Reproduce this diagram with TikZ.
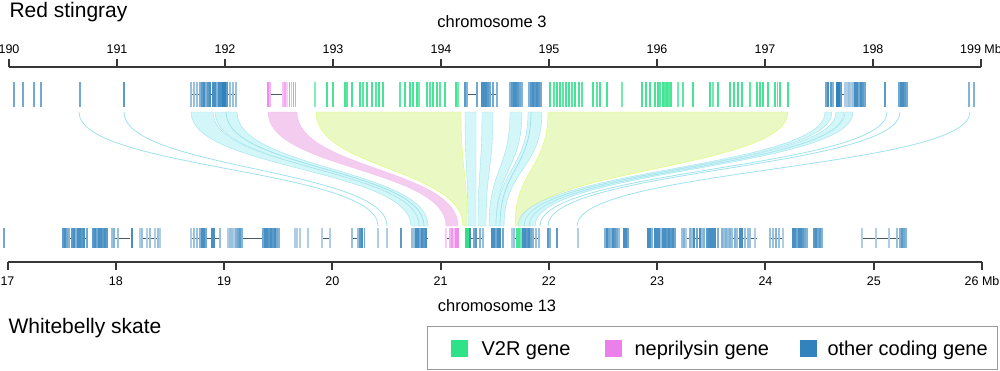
\documentclass[tikz,border=0pt]{standalone}
\usepackage{fontspec}
\setmainfont{Liberation Sans}
\definecolor{v2r}{RGB}{46,226,136}
\definecolor{nep}{RGB}{236,128,234}
\definecolor{oth}{RGB}{49,130,189}
\definecolor{axisgray}{RGB}{55,55,55}
\definecolor{cyfill}{RGB}{200,245,247}
\definecolor{cyline}{RGB}{160,226,236}
\definecolor{pkfill}{RGB}{244,204,240}
\definecolor{ygfill}{RGB}{234,248,196}
\definecolor{intr}{RGB}{70,90,110}
\newcommand\myribbon[5]{\filldraw[#5] (#1,112) .. controls (#1,169) and (#3,169) .. (#3,226) -- (#4,226) .. controls (#4,169) and (#2,169) .. (#2,112) -- cycle;}
\newcommand\myrline[2]{\draw[rline] (#1,112) .. controls (#1,169) and (#2,169) .. (#2,226);}
\newcommand\topgenes[2]{\foreach \x/\op in {#2} {\pgfmathtruncatemacro\pc{\op*100}\fill[#1!\pc!white] (\x-0.65,82) rectangle (\x+0.65,107);}}
\newcommand\botgenes[2]{\foreach \x/\op in {#2} {\pgfmathtruncatemacro\pc{\op*100}\fill[#1!\pc!white] (\x-0.65,228) rectangle (\x+0.65,248);}}
\begin{document}
\begin{tikzpicture}[x=1pt,y=-1pt,
  axisline/.style={draw=axisgray,line width=2pt},
  ticklbl/.style={font=\fontsize{12.5}{14}\selectfont,anchor=base},
  intron/.style={draw=intr,line width=0.6pt},
  cyr/.style={fill=cyfill,fill opacity=0.8,draw=cyline,line width=0.4pt},
  pkr/.style={fill=pkfill,draw=pkfill!85!nep,line width=0.4pt},
  ygr/.style={fill=ygfill,draw=ygfill!85!green!60!yellow,line width=0.4pt},
  rline/.style={draw=cyline,line width=0.8pt},
  title/.style={font=\fontsize{21}{24}\selectfont,anchor=base west},
  chrlbl/.style={font=\fontsize{16.5}{19}\selectfont,anchor=base},
  legsq/.style={minimum size=17pt,inner sep=0pt},
  legtxt/.style={font=\fontsize{20}{23}\selectfont,anchor=base west}]
\useasboundingbox (0,0) rectangle (1000,370);

% titles
\node[title] (sp1) at (6,17) {Red stingray};
\node[title] (sp2) at (5,333) {Whitebelly skate};
\node[chrlbl] (chr3) at (492,27) {chromosome 3};
\node[chrlbl] (chr13) at (497,311) {chromosome 13};

% top axis
\draw[axisline] (9,67) -- (981,67);
\foreach \i in {0,...,9} {
  \pgfmathsetmacro\tx{9+108*\i}
  \draw[axisline] (\tx,67) -- (\tx,59);
}
\foreach \i/\l in {0/190,1/191,2/192,3/193,4/194,5/195,6/196,7/197,8/198}
  \node[ticklbl] (tt\i) at ({9+108*\i},53) {\l};
\node[ticklbl] (tt9) at (981,53) {199 Mb};

% bottom axis
\draw[axisline] (7.5,262) -- (982,262);
\foreach \i in {0,...,9} {
  \pgfmathsetmacro\tx{7.5+108.28*\i}
  \draw[axisline] (\tx,262) -- (\tx,270);
}
\foreach \i/\l in {0/17,1/18,2/19,3/20,4/21,5/22,6/23,7/24,8/25}
  \node[ticklbl] (bt\i) at ({7.5+108.28*\i},285) {\l};
\node[ticklbl] (bt9) at (982,285) {26 Mb};

% ribbons
\myribbon{316}{461}{463}{467}{ygr}
\myribbon{548}{788}{515}{520}{ygr}
\myribbon{268}{297}{446}{458}{pkr}
\myribbon{191}{213}{411}{420}{cyr}
\myribbon{215}{237}{419}{428}{cyr}
\myribbon{465}{476}{468}{476}{cyr}
\myribbon{482}{493}{478}{486}{cyr}
\myribbon{510}{522}{489}{496}{cyr}
\myribbon{528}{542}{496}{504}{cyr}
\myribbon{825}{832}{518}{524}{cyr}
\myribbon{836}{844}{524}{530}{cyr}
\myribbon{845}{853}{529}{535}{cyr}
\myrline{79}{378}
\myrline{124}{387}
\myrline{226}{424}
\myrline{531}{500}
\myrline{887}{540}
\myrline{900}{548}
\myrline{970}{577}

% ===== top track genes =====
\topgenes{oth}{14/.7,23/.7,34/.7,41/.7,80/.7,124/.8}
\draw[intron] (191,94.5) -- (237,94.5);
\topgenes{oth}{191/.5,194/.5,197/.5,200/.6,202/.8,204/.9,206/.6,208/.8,210/.9,213/.9,215/.9,217/.6,219/.9,221/.9,223/1,225/1,227/.8,230/.5,233/.5,236/.5}
\draw[intron] (268,94.5) -- (285,94.5);
\topgenes{nep}{268/.9,270/.6,283/.5,285/.7,287/.4,289.5/.9,291.5/.6,293.5/.9,295.5/.8}
\topgenes{v2r}{315/.6,327/.9,333/.9,345/.9,347/.8,352/.9,360/.9,363/.8,367/.9,372/.9,376/.8,379/.9,383/.9,400/.8,405/.9,410/.9,413/.9,417/.9,419/.7,427/.9,430/.8,433/.9,437/.9,440/.8,445/.9,456/.9,458/.7}
\draw[intron] (465,94.5) -- (477,94.5);
\draw[intron] (482,94.5) -- (497,94.5);
\draw[intron] (510,94.5) -- (523,94.5);
\draw[intron] (529,94.5) -- (542,94.5);
\topgenes{oth}{465/.8,467/.6,477/.7,482/.9,484/.9,486/.9,488/.8,490/.7,493/.7,497/.6,510/.6,512/.8,514/.9,516/.9,518/.8,520/.7,522/.6,529/.6,531/.8,533/.9,535/.8,537/.9,539/.8,541/.7}
\topgenes{v2r}{550/.9,554/.8,557/.9,560/.9,563/.8,566/.9,569/.9,572/.8,575/.9,579/.9,582/.8,593/.9,597/.8,600/.9,607/.9,622/.7,642/.9,646/.9,650/.9,655/.9,658/.9,660/.8,663/.9,665/.8,667/.9,669/.8,671/.9,678/.7,683/.8,693/.9,710/.9,713/.7,718/.9,730/.9,734/.9,738/.9,742/.9,750/.8,757/.9,760/.9,763/.9,768/.9,775/.9,777.5/.8,780/.9,788/.9}
\draw[intron] (842,94.5) -- (855,94.5);
\topgenes{oth}{826/.7,828/.9,831/.8,833/.6,837/1,839/1,841/.8,845/.4,847/.4,849/.5,851/.4,853/.5,855/.9,857/.9,859/.7,861/.9,863/.8,865/.7,885/.8,899/.7,901/.9,903/.9,905/.8,907/.7,969/.6,974/.6}

% ===== bottom track genes =====
\draw[intron] (63,238) -- (87,238);
\draw[intron] (112,238) -- (130,238);
\draw[intron] (140,238) -- (161,238);
\draw[intron] (191,238) -- (220,238);
\draw[intron] (228,238) -- (263,238);
\draw[intron] (322,238) -- (330,238);
\draw[intron] (352,238) -- (362,238);
\draw[intron] (412,238) -- (428,238);
\draw[intron] (446,238) -- (458,238);
\draw[intron] (470,238) -- (483,238);
\draw[intron] (512,238) -- (540,238);
\draw[intron] (682,238) -- (700,238);
\draw[intron] (722,238) -- (757,238);
\draw[intron] (770,238) -- (783,238);
\draw[intron] (862,238) -- (907,238);
\botgenes{oth}{4/.7,63/.8,65/.9,67/.7,69/.6,72/.8,74/.9,76/.6,78/.9,80/.9,82/.8,84/.9,87/.7,93/.8,95/.9,97/.7,99/.9,101/.9,103/.8,105/.9,107/.8,112/.5,114/.6,118/.5,132/.9,140/.4,142/.5,147/.4,150/.5,155/.4,158/.5,160/.4}
\botgenes{oth}{191/.4,194/.5,197/.5,200/.6,202/.9,204/.9,206/.7,212/.9,214/.9,220/.5,228/.4,230/.5,232/.5,234/.4,236/.6,238/.7,240/.8,242/.6,263/.7,265/.9,267/.9,269/.8,271/.9,273/.8,275/.9,277/.7,279/.6,295/.4,297/.4,300/.4,308/.4,322/.4,330/.4}
\botgenes{oth}{352/.5,358/.5,360/.8,362/.9,364.5/.7,378/.4,387/.4,401/.8,412/.5,414/.5,416/.9,418/.9,420/.7,422/.9,424/.8,426/.9}
\botgenes{nep}{446/.4,450/.6,452/.8,454/.5,456/.9,458/.9}
\botgenes{v2r}{466/1,468/1,517/.9,519/.9,521/.7}
\botgenes{oth}{470/.9,474/.7,476/.8,480/.6,483/.5,492/.9,494/.9,496/.7,498/.9,500/.9,503/.7,512/.4,514/.5,523/.9,525/.9,527/.8,529/.9,531/.7,533/.6,536/.5,539/.5,548/.8,550/.6,557/.8,578/.4}
\botgenes{oth}{605/.6,607/.9,609/.7,611/.6,613/.9,615/.8,617/.7,619/.5,624/.9,626/.9,628/.7,648/.9,650/.9,652/.6,655/.9,657/.9,659/.9,661/.5,663/.9,665/.9,667/.8,669/.9,671/.8,673/.9,675/.7}
\botgenes{oth}{682/.5,684/.6,686/.4,690/.6,692/.5,694/.9,697/.7,700/.9,702/.5,704/.6,707/.8,709/.9,711/.9,713/.9,715/.9,718/.6,722/.6,724/.5,726/.6,728/.5,730/.6,732/.5,735/.6,737/.5,740/.9,742/.9,745/.5,748/.5,750/.5,755/.4}
\botgenes{oth}{770/.5,773/.5,776/.6,779/.5,783/.4,793/.9,795/.9,797/.7,799/.9,801/.9,803/.8,805/.7,807/.6,814/.8,816/.9,818/.7,820/.8,822/.6,862/.4,876/.4,889/.4,897/.5,900/.6,902/.8,904/.7,906/.6}

% legend
\draw[draw=black!40,line width=1pt] (427.5,326) rectangle (997.5,369);
\node[legsq,fill=v2r] (lg1) at (459.5,348) {};
\node[legtxt] (lt1) at (478,355) {V2R gene};
\node[legsq,fill=nep] (lg2) at (613.5,348) {};
\node[legtxt] (lt2) at (631,355) {neprilysin gene};
\node[legsq,fill=oth] (lg3) at (808.5,348) {};
\node[legtxt] (lt3) at (824,355) {other coding gene};
\end{tikzpicture}
\end{document}
